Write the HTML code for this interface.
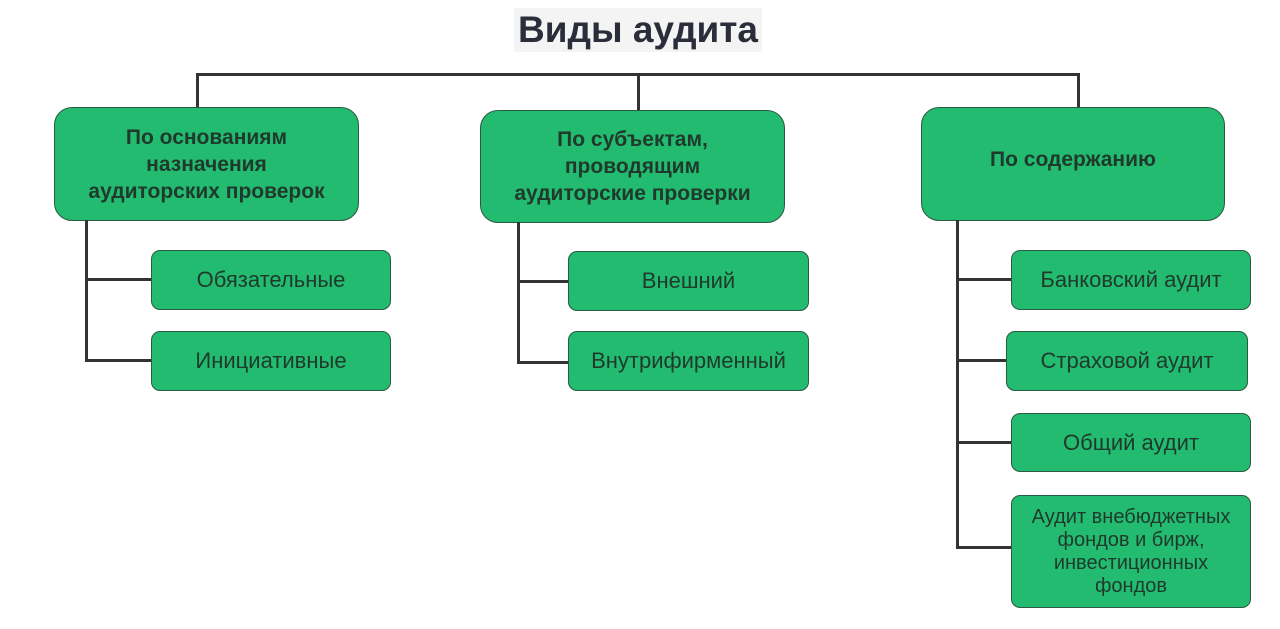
<!DOCTYPE html>
<html><head><meta charset="utf-8"><style>
body{margin:0;width:1280px;height:629px;background:#fff;position:relative;overflow:hidden;font-family:"Liberation Sans","DejaVu Sans",sans-serif}
.t{position:absolute;left:514px;top:8px;width:248px;height:44px;background:#f4f4f4;font-weight:bold;font-size:37px;color:#2b2d3a;text-align:center;line-height:44px;white-space:nowrap}
.b{position:absolute;background:#22bb70;border:1.5px solid #2a5a40;box-sizing:border-box;display:flex;align-items:center;justify-content:center;text-align:center;color:#1f3a2c;white-space:nowrap}
.h{border-radius:18px;font-weight:bold;font-size:21px;line-height:27px}
.c{border-radius:9px;font-size:22px;line-height:24px}
.l{position:absolute;background:#333}
</style></head><body>
<div class="t">Виды аудита</div>
<div class="l" style="left:196px;top:73px;width:884px;height:3px"></div>
<div class="l" style="left:196px;top:73px;width:3px;height:35px"></div>
<div class="l" style="left:637px;top:73px;width:3px;height:38px"></div>
<div class="l" style="left:1077px;top:73px;width:3px;height:35px"></div>
<div class="b h" style="left:54px;top:107px;width:305px;height:114px">По основаниям<br>назначения<br>аудиторских проверок</div>
<div class="b h" style="left:480px;top:110px;width:305px;height:113px">По субъектам,<br>проводящим<br>аудиторские проверки</div>
<div class="b h" style="left:921px;top:107px;width:304px;height:114px;padding-bottom:10px">По содержанию</div>
<div class="l" style="left:85px;top:220px;width:3px;height:142px"></div>
<div class="l" style="left:85px;top:278px;width:66px;height:3px"></div>
<div class="l" style="left:85px;top:359px;width:66px;height:3px"></div>
<div class="b c" style="left:151px;top:250px;width:240px;height:60px">Обязательные</div>
<div class="b c" style="left:151px;top:331px;width:240px;height:60px">Инициативные</div>
<div class="l" style="left:517px;top:222px;width:3px;height:142px"></div>
<div class="l" style="left:517px;top:280px;width:52px;height:3px"></div>
<div class="l" style="left:517px;top:361px;width:52px;height:3px"></div>
<div class="b c" style="left:568px;top:251px;width:241px;height:60px">Внешний</div>
<div class="b c" style="left:568px;top:331px;width:241px;height:60px">Внутрифирменный</div>
<div class="l" style="left:956px;top:220px;width:3px;height:329px"></div>
<div class="l" style="left:956px;top:278px;width:56px;height:3px"></div>
<div class="l" style="left:956px;top:359px;width:51px;height:3px"></div>
<div class="l" style="left:956px;top:441px;width:56px;height:3px"></div>
<div class="l" style="left:956px;top:546px;width:56px;height:3px"></div>
<div class="b c" style="left:1011px;top:250px;width:240px;height:60px">Банковский аудит</div>
<div class="b c" style="left:1006px;top:331px;width:242px;height:60px">Страховой аудит</div>
<div class="b c" style="left:1011px;top:413px;width:240px;height:59px">Общий аудит</div>
<div class="b c" style="left:1011px;top:495px;width:240px;height:113px;font-size:20px;line-height:23px">Аудит внебюджетных<br>фондов и бирж,<br>инвестиционных<br>фондов</div>
</body></html>
